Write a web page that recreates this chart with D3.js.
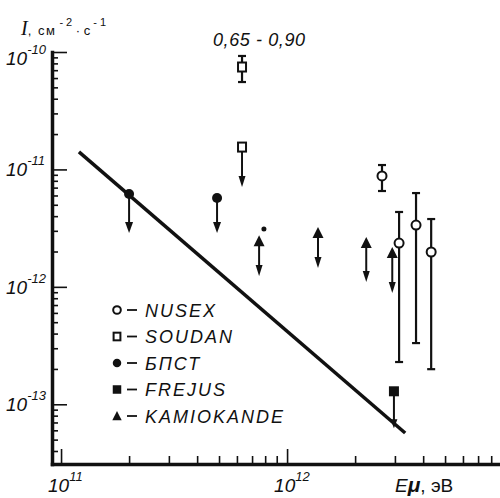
<!DOCTYPE html>
<html>
<head>
<meta charset="utf-8">
<script src="https://cdn.jsdelivr.net/npm/d3@7"></script>
<style>
  body { margin: 0; background: #fff; }
  svg { display: block; }
  text { font-family: "Liberation Sans", Arial, sans-serif; font-style: italic; fill: #111; }
</style>
</head>
<body>
<div id="chart"></div>
<script>
// muon energy (eV) and intensity (cm^-2 s^-1)

// NUSEX - open circles with error bars
var nusexE  = [2.63e12, 3.13e12, 3.72e12, 4.34e12];
var nusexI  = [8.8e-12, 2.36e-12, 3.36e-12, 1.98e-12];
var nusexHi = [1.09e-11, 4.34e-12, 6.29e-12, 3.78e-12];
var nusexLo = [6.55e-12, 2.29e-13, 3.32e-13, 1.99e-13];

// SOUDAN - open squares (first with error bar, second an upper limit)
var soudanE  = [6.32e11, 6.32e11];
var soudanI  = [7.45e-11, 1.55e-11];
var soudanHi = [9.25e-11, null];
var soudanLo = [5.55e-11, null];
var soudanTo = [null, 7.08e-12];

// BPST - filled circles, upper limits
var bpstE  = [2.0e11, 4.9e11];
var bpstI  = [6.17e-12, 5.71e-12];
var bpstTo = [2.87e-12, 2.87e-12];

// small stray dot
var dotE = [7.9e11];
var dotI = [3.11e-12];

// FREJUS - filled square, upper limit
var frejusE  = [2.97e12];
var frejusI  = [1.29e-13];
var frejusTo = [6.26e-14];

// KAMIOKANDE - filled triangles with downward arrows
var kamE  = [7.52e11, 1.37e12, 2.24e12, 2.92e12];
var kamI  = [2.45e-12, 2.87e-12, 2.36e-12, 1.94e-12];
var kamTo = [1.24e-12, 1.45e-12, 1.10e-12, 8.85e-13];

// expected spectrum line
var lineE = [1.2e11, 3.33e12];
var lineI = [1.41e-11, 5.69e-14];

// axes
var xMajor = [1e11, 1e12];
var xMajorExp = ["11", "12"];
var yMajor = [1e-10, 1e-11, 1e-12, 1e-13];
var yMajorExp = ["-10", "-11", "-12", "-13"];

var legendNames = ["NUSEX", "SOUDAN", "БПСТ", "FREJUS", "KAMIOKANDE"];
var legendSymbols = ["circleOpen", "squareOpen", "circle", "square", "triangle"];

var width = 500, height = 498;

var svg = d3.select("#chart").append("svg")
  .attr("width", width)
  .attr("height", height);

var x = d3.scaleLog().domain([9.12e10, 8.75e12]).range([52, 500]);
var y = d3.scaleLog().domain([3.1e-14, 1e-10]).range([464, 52]);

// minor tick values inside the domain
var xMinor = [];
[1e10, 1e11, 1e12].forEach(function(d) {
  d3.range(2, 10).forEach(function(k) {
    var v = d * k;
    if (v >= x.domain()[0] && v <= x.domain()[1]) xMinor.push(v);
  });
});
var yMinor = [];
[1e-14, 1e-13, 1e-12, 1e-11].forEach(function(d) {
  d3.range(2, 10).forEach(function(k) {
    var v = d * k;
    if (v >= y.domain()[0] && v <= y.domain()[1]) yMinor.push(v);
  });
});

function styleAxis(g, domainWidth) {
  g.selectAll("path.domain")
    .attr("stroke", "#111")
    .attr("stroke-width", domainWidth)
    .attr("stroke-linecap", "square");
  g.selectAll(".tick line").attr("stroke", "#111").attr("stroke-width", 1.6);
  g.selectAll(".tick text").remove();
}

// x axis
svg.append("g")
  .attr("transform", "translate(0,464)")
  .call(d3.axisBottom(x).tickValues(xMinor).tickSize(-8).tickSizeOuter(0))
  .call(styleAxis, 0);
svg.append("g")
  .attr("transform", "translate(0,464)")
  .call(d3.axisBottom(x).tickValues(xMajor).tickSize(-15).tickSizeOuter(0))
  .call(styleAxis, 3.5);

// y axis
svg.append("g")
  .attr("transform", "translate(52,0)")
  .call(d3.axisLeft(y).tickValues(yMinor).tickSize(-6).tickSizeOuter(0))
  .call(styleAxis, 0);
svg.append("g")
  .attr("transform", "translate(52,0)")
  .call(d3.axisLeft(y).tickValues(yMajor).tickSize(-15).tickSizeOuter(0))
  .call(styleAxis, 3.5);

// x tick labels 10^n
xMajor.forEach(function(v, i) {
  var t = svg.append("text")
    .attr("x", x(v) - 13)
    .attr("y", 492)
    .attr("font-size", 19);
  t.append("tspan").text("10");
  t.append("tspan").attr("font-size", 13).attr("dy", -11).text(xMajorExp[i]);
});

// y tick labels 10^-n
yMajor.forEach(function(v, i) {
  var t = svg.append("text")
    .attr("x", 6)
    .attr("y", y(v) + (i === 0 ? 13 : 7))
    .attr("font-size", 19);
  t.append("tspan").text("10");
  t.append("tspan").attr("font-size", 13).attr("dy", -11).text(yMajorExp[i]);
});

// y axis title
var yt = svg.append("text").attr("x", 21).attr("y", 35);
yt.append("tspan").attr("font-family", "Liberation Serif").attr("font-size", 20).text("I");
yt.append("tspan").attr("font-style", "normal").attr("font-size", 13).attr("letter-spacing", 1.5).text(", см");
yt.append("tspan").attr("font-style", "normal").attr("font-size", 11).attr("dy", -9).text(" - 2");
yt.append("tspan").attr("font-style", "normal").attr("font-size", 13).attr("dy", 9).text(" · с");
yt.append("tspan").attr("font-style", "normal").attr("font-size", 11).attr("dy", -9).text(" - 1");

// x axis title
var xt = svg.append("text").attr("x", 395).attr("y", 492).attr("font-size", 19);
xt.append("tspan").text("E");
xt.append("tspan").attr("font-weight", "bold").attr("font-size", 21).text("μ");
xt.append("tspan").attr("font-style", "normal").text(", эВ");

// annotation above the SOUDAN point
svg.append("text")
  .attr("x", 213).attr("y", 46)
  .attr("font-size", 18)
  .attr("textLength", 92)
  .attr("lengthAdjust", "spacing")
  .text("0,65 - 0,90");

// expected spectrum line
svg.append("line")
  .attr("x1", x(lineE[0])).attr("y1", y(lineI[0]))
  .attr("x2", x(lineE[1])).attr("y2", y(lineI[1]))
  .attr("stroke", "#111")
  .attr("stroke-width", 3.5);

var marks = svg.append("g");

function downArrow(px, fromY, toY, headW, headL) {
  marks.append("line")
    .attr("x1", px).attr("y1", fromY)
    .attr("x2", px).attr("y2", toY - headL + 2)
    .attr("stroke", "#111").attr("stroke-width", 2);
  marks.append("path")
    .attr("d", "M" + (px - headW / 2) + "," + (toY - headL) +
               "L" + (px + headW / 2) + "," + (toY - headL) +
               "L" + px + "," + toY + "Z")
    .attr("fill", "#111");
}

function errorBar(px, hiY, loY) {
  marks.append("line")
    .attr("x1", px).attr("y1", hiY).attr("x2", px).attr("y2", loY)
    .attr("stroke", "#111").attr("stroke-width", 2.2);
  [hiY, loY].forEach(function(cy) {
    marks.append("line")
      .attr("x1", px - 4).attr("y1", cy).attr("x2", px + 4).attr("y2", cy)
      .attr("stroke", "#111").attr("stroke-width", 2.2);
  });
}

function symbol(type, px, py, s) {
  if (type === "circleOpen") {
    marks.append("circle").attr("cx", px).attr("cy", py).attr("r", 4.5 * s)
      .attr("fill", "#fff").attr("stroke", "#111").attr("stroke-width", 2);
  } else if (type === "circle") {
    marks.append("circle").attr("cx", px).attr("cy", py).attr("r", 5 * s)
      .attr("fill", "#111");
  } else if (type === "squareOpen") {
    marks.append("rect").attr("x", px - 4 * s).attr("y", py - 4.5 * s)
      .attr("width", 8 * s).attr("height", 9 * s)
      .attr("fill", "#fff").attr("stroke", "#111").attr("stroke-width", 2);
  } else if (type === "square") {
    marks.append("rect").attr("x", px - 5 * s).attr("y", py - 5 * s)
      .attr("width", 10 * s).attr("height", 10 * s)
      .attr("fill", "#111");
  } else if (type === "triangle") {
    marks.append("path")
      .attr("d", "M" + (px - 5.5 * s) + "," + (py + 5 * s) +
                 "L" + (px + 5.5 * s) + "," + (py + 5 * s) +
                 "L" + px + "," + (py - 6 * s) + "Z")
      .attr("fill", "#111");
  }
}

// BPST upper limits
bpstE.forEach(function(e, i) {
  downArrow(x(e), y(bpstI[i]), y(bpstTo[i]), 8, 11);
  symbol("circle", x(e), y(bpstI[i]), 1);
});
dotE.forEach(function(e, i) {
  marks.append("circle").attr("cx", x(e)).attr("cy", y(dotI[i])).attr("r", 2.5).attr("fill", "#111");
});

// SOUDAN
soudanE.forEach(function(e, i) {
  if (soudanHi[i] !== null) errorBar(x(e), y(soudanHi[i]), y(soudanLo[i]));
  if (soudanTo[i] !== null) downArrow(x(e), y(soudanI[i]), y(soudanTo[i]), 7, 11);
  symbol("squareOpen", x(e), y(soudanI[i]), 1);
});

// KAMIOKANDE
kamE.forEach(function(e, i) {
  downArrow(x(e), y(kamI[i]), y(kamTo[i]), 7, 11);
  symbol("triangle", x(e), y(kamI[i]), 1);
});

// NUSEX
nusexE.forEach(function(e, i) {
  errorBar(x(e), y(nusexHi[i]), y(nusexLo[i]));
  symbol("circleOpen", x(e), y(nusexI[i]), 1);
});

// FREJUS
frejusE.forEach(function(e, i) {
  downArrow(x(e), y(frejusI[i]), y(frejusTo[i]), 7, 9);
  symbol("square", x(e), y(frejusI[i]), 1);
});

// legend
var legend = svg.append("g").attr("transform", "translate(117,310)");
legendNames.forEach(function(name, i) {
  var row = legend.append("g").attr("transform", "translate(0," + (i * 26.5) + ")");
  var holder = marks;
  marks = row;
  symbol(legendSymbols[i], 0, 0, 0.85);
  marks = holder;
  row.append("line")
    .attr("x1", 10).attr("x2", 20).attr("y1", 0).attr("y2", 0)
    .attr("stroke", "#111").attr("stroke-width", 1.8);
  row.append("text")
    .attr("x", 28).attr("y", 6.5)
    .attr("font-size", 18)
    .attr("letter-spacing", 2)
    .text(name);
});
</script>
</body>
</html>
